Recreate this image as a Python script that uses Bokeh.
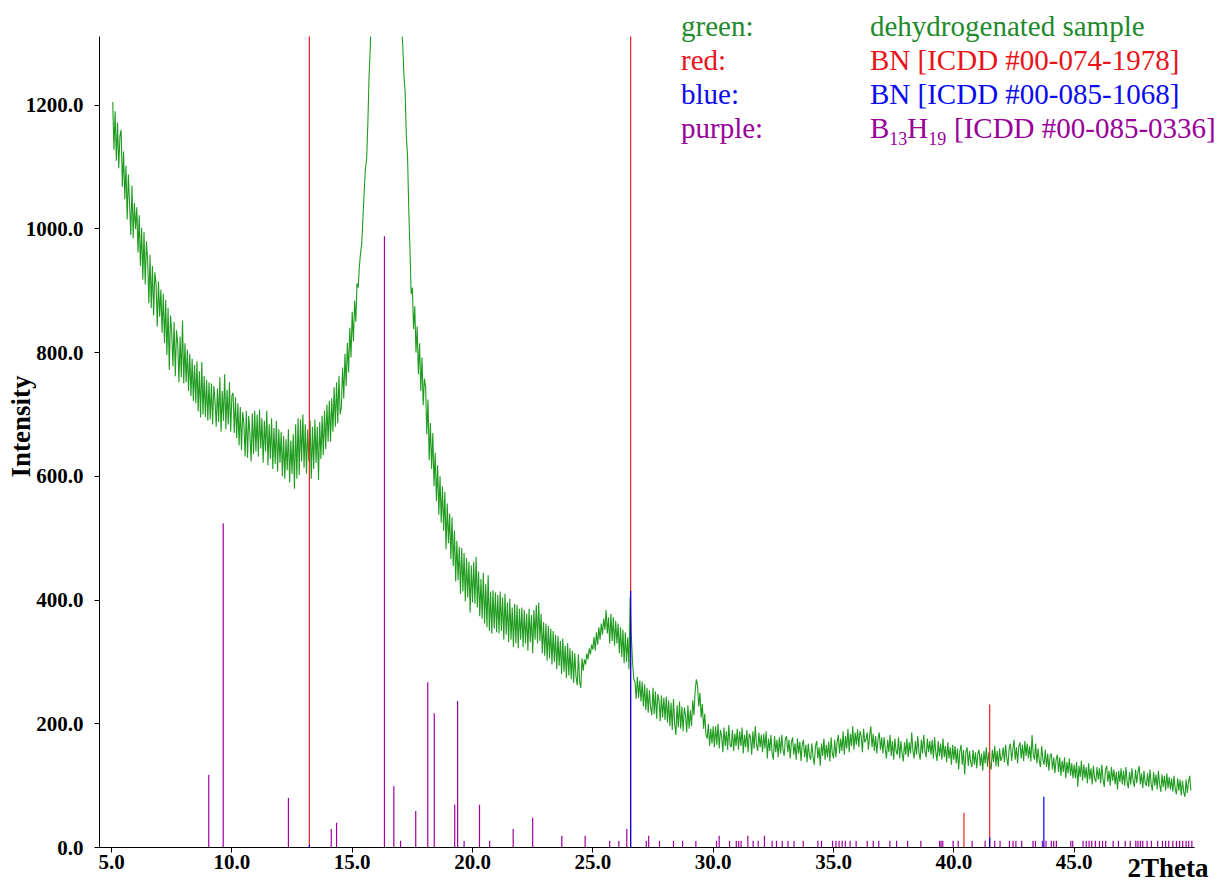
import numpy as np
from bokeh.plotting import figure
from bokeh.models import Range1d, FixedTicker, PrintfTickFormatter
from bokeh.core.properties import value
from bokeh.embed import file_html
from bokeh.resources import INLINE

# ---- measured XRD scan (2Theta grid: start + step) ----
SCAN_START = 5.05
SCAN_STEP = 0.05
intensity = [
    1205, 1128, 1190, 1110, 1172, 1098, 1150, 1160, 1068, 1125, 1048, 1102, 1015, 1088, 1040, 990, 1070, 985, 1042, 1000,
    1035, 962, 1022, 940, 1002, 918, 995, 910, 980, 948, 880, 958, 872, 940, 860, 930, 912, 842, 915, 858,
    902, 832, 895, 815, 885, 796, 872, 772, 860, 834, 778, 850, 762, 836, 815, 752, 826, 760, 852, 750,
    815, 752, 805, 738, 798, 730, 790, 722, 780, 718, 786, 705, 770, 695, 785, 700, 762, 696, 756, 690,
    752, 692, 750, 684, 746, 722, 680, 742, 688, 760, 672, 738, 690, 765, 676, 740, 684, 752, 672, 730,
    735, 670, 728, 662, 718, 650, 712, 642, 704, 684, 632, 706, 630, 698, 668, 624, 702, 636, 706, 640,
    700, 632, 708, 645, 694, 622, 690, 640, 706, 618, 684, 628, 694, 612, 678, 620, 690, 608, 676, 622,
    672, 600, 665, 596, 660, 610, 676, 590, 658, 604, 668, 580, 684, 596, 694, 602, 692, 624, 700, 614,
    684, 604, 676, 624, 690, 596, 680, 612, 692, 622, 680, 594, 688, 628, 698, 634, 706, 644, 716, 656,
    722, 656, 726, 672, 744, 680, 752, 686, 762, 700, 712, 776, 726, 798, 746, 816, 768, 840, 792, 866,
    818, 884, 850, 912, 905, 940, 962, 978, 1020, 1062, 1098, 1112, 1170, 1245, 1290, 1375, 1440, 1530, 1630, 1740,
    1850, 1960, 2070, 2170, 2260, 2330, 2380, 2400, 2390, 2350, 2280, 2190, 2080, 1960, 1840, 1720, 1610, 1510, 1430, 1370,
    1325, 1298, 1248, 1222, 1150, 1118, 1032, 968, 895, 905, 838, 875, 800, 842, 765, 815, 738, 792, 715, 758,
    745, 668, 724, 626, 686, 612, 670, 584, 638, 560, 618, 538, 600, 525, 584, 512, 575, 482, 556, 492,
    540, 466, 534, 455, 512, 430, 496, 432, 486, 410, 484, 414, 476, 398, 468, 404, 462, 380, 456, 396,
    462, 394, 470, 388, 446, 374, 434, 370, 444, 362, 426, 356, 440, 350, 414, 346, 416, 354, 412, 348,
    408, 346, 414, 350, 404, 336, 410, 344, 396, 332, 402, 336, 388, 324, 394, 330, 392, 322, 386, 336,
    388, 324, 384, 330, 378, 318, 386, 332, 376, 314, 384, 336, 392, 330, 396, 334, 378, 314, 364, 310,
    362, 302, 358, 306, 354, 296, 350, 300, 344, 288, 342, 294, 334, 280, 338, 284, 326, 274, 330, 278,
    322, 272, 318, 266, 314, 276, 262, 312, 268, 258, 306, 286, 304, 296, 314, 304, 322, 312, 328, 320,
    340, 318, 348, 328, 356, 336, 362, 344, 370, 352, 384, 346, 372, 330, 378, 334, 372, 326, 366, 330,
    362, 314, 356, 308, 352, 298, 348, 300, 340, 288, 405, 340, 300, 272, 268, 240, 276, 242, 270, 236,
    268, 228, 264, 222, 258, 218, 254, 226, 214, 258, 216, 252, 208, 248, 238, 204, 246, 210, 242, 206,
    244, 202, 238, 196, 234, 190, 240, 200, 182, 230, 194, 236, 192, 228, 188, 226, 214, 186, 230, 192,
    222, 196, 238, 214, 252, 272, 262, 228, 250, 210, 232, 192, 216, 182, 176, 200, 164, 192, 168, 196,
    162, 196, 166, 200, 160, 190, 180, 154, 194, 164, 188, 158, 198, 166, 162, 190, 156, 184, 164, 192,
    158, 188, 164, 194, 152, 182, 162, 190, 154, 184, 178, 150, 188, 160, 196, 166, 156, 186, 162, 182,
    154, 184, 160, 188, 144, 176, 156, 182, 152, 142, 180, 154, 174, 146, 178, 152, 182, 158, 148, 176,
    180, 154, 174, 144, 170, 178, 150, 168, 142, 176, 152, 171, 140, 166, 174, 146, 166, 138, 168, 149,
    142, 168, 146, 134, 164, 172, 144, 162, 132, 168, 148, 176, 142, 166, 146, 171, 139, 178, 152, 144,
    174, 146, 170, 182, 152, 176, 156, 188, 150, 180, 160, 192, 154, 184, 164, 196, 158, 186, 166, 191,
    162, 188, 180, 154, 192, 170, 174, 186, 158, 181, 196, 162, 184, 156, 180, 152, 176, 186, 158, 178,
    152, 178, 159, 144, 174, 154, 182, 148, 172, 142, 176, 156, 150, 178, 144, 172, 152, 139, 170, 150,
    176, 146, 170, 152, 186, 156, 144, 172, 150, 180, 154, 142, 174, 152, 182, 156, 146, 176, 154, 172,
    150, 174, 144, 178, 154, 140, 172, 148, 168, 142, 176, 146, 164, 138, 170, 144, 162, 134, 166, 142,
    164, 136, 160, 126, 156, 166, 134, 158, 118, 154, 162, 132, 156, 138, 130, 158, 134, 154, 128, 152,
    158, 132, 152, 124, 156, 136, 162, 130, 154, 134, 126, 158, 138, 164, 132, 156, 130, 160, 140, 146,
    162, 138, 166, 144, 132, 161, 168, 140, 158, 174, 142, 162, 136, 164, 170, 144, 166, 140, 172, 148,
    168, 144, 164, 139, 182, 150, 142, 168, 136, 160, 140, 130, 164, 142, 134, 158, 130, 152, 124, 148,
    152, 126, 146, 120, 142, 150, 122, 146, 116, 140, 122, 146, 112, 138, 120, 144, 116, 136, 112, 134,
    112, 138, 98, 132, 114, 140, 108, 134, 112, 130, 104, 136, 110, 128, 102, 132, 112, 106, 130, 110,
    128, 104, 134, 110, 98, 126, 132, 106, 124, 100, 130, 108, 126, 102, 122, 94, 124, 106, 128, 102,
    124, 100, 130, 106, 96, 122, 102, 128, 108, 98, 126, 104, 122, 132, 102, 120, 96, 124, 104, 100,
    120, 98, 126, 102, 92, 122, 100, 118, 94, 124, 102, 90, 118, 98, 116, 92, 120, 96, 114, 94,
    112, 90, 116, 94, 86, 112, 92, 110, 84, 108, 90, 82, 110, 88, 106, 116, 92,
]
two_theta = np.round(SCAN_START + SCAN_STEP * np.arange(len(intensity)), 2)

# ---- reference stick patterns ----
red_pos = [13.22, 26.57, 40.42, 41.49]          # BN [ICDD #00-074-1978]
red_int = [1500, 1500, 56, 231]
blue_pos = [13.22, 26.57, 41.49, 43.74]         # BN [ICDD #00-085-1068]
blue_int = [5, 415, 16, 82]
purple_pos = [9.04, 9.64, 12.35, 14.13, 14.35, 16.34, 16.73, 17.01, 17.64, 18.14,
              18.41, 19.26, 19.38, 19.65, 20.29, 20.71, 21.69, 22.50, 23.71, 24.68,
              25.70, 26.08, 26.41, 27.22, 27.32, 27.77, 28.35, 28.73, 29.28, 30.14,
              30.25, 30.68, 30.96, 31.06, 31.16, 31.44, 31.66, 31.87, 32.13, 32.45,
              32.63, 32.87, 33.11, 33.36, 33.74, 34.35, 34.50, 34.96, 35.10, 35.23,
              35.36, 35.49, 35.69, 35.94, 36.40, 36.65, 36.88, 37.34, 37.62, 38.08,
              38.63, 39.41, 39.47, 39.54, 39.97, 40.18, 40.76, 41.30, 41.70, 41.92,
              42.31, 42.46, 42.58, 42.82, 43.29, 43.39, 43.68, 43.83, 44.05, 44.15,
              44.26, 44.86, 44.94, 45.37, 45.50, 45.62, 45.73, 45.88, 46.05, 46.18,
              46.31, 46.62, 46.84, 47.12, 47.33, 47.56, 47.65, 47.75, 47.85, 48.03,
              48.21, 48.47, 48.67, 48.80, 48.93, 49.10, 49.25, 49.38, 49.51, 49.65,
              49.76, 49.89]
purple_int = [117, 524, 80, 30, 40, 988, 99, 11, 59, 267,
              217, 69, 237, 11, 69, 11, 30, 48, 19, 19,
              11, 11, 30, 11, 19, 11, 11, 11, 11, 11,
              19, 11, 11, 11, 11, 19, 11, 11, 19, 11,
              11, 11, 11, 11, 11, 11, 11, 11, 11, 11,
              11, 11, 11, 11, 11, 11, 11, 11, 11, 11,
              11, 11, 11, 11, 11, 11, 11, 11, 11, 11,
              11, 11, 11, 11, 11, 11, 11, 11, 11, 11,
              11, 11, 11, 11, 11, 11, 11, 11, 11, 11,
              11, 11, 11, 11, 11, 11, 11, 11, 11, 11,
              11, 11, 11, 11, 11, 11, 11, 11, 11, 11,
              11, 11]

x_ticks = [5, 10, 15, 20, 25, 30, 35, 40, 45]
y_ticks = [0, 200, 400, 600, 800, 1000, 1200]

legend_keys = ["green:", "red:", "blue:", "purple:"]
legend_names = ["dehydrogenated sample", "BN [ICDD #00-074-1978]", "BN [ICDD #00-085-1068]"]
legend_colors = ["#1f8a2e", "#e8141a", "#0a0af0", "#990099"]

GREEN = "#1f9c1f"
RED = "#f01c1c"
BLUE = "#0000ee"
PURPLE = "#a000a0"

# ---- layout geometry (pixels) ----
W, H = 1220, 882
FL, FR, FT, FB = 99, 26, 36, 35
FW, FH = W - FL - FR, H - FT - FB
X0, X1 = 4.5, 50.0
Y0, Y1 = 0.0, 1311.0


def sx(px):
    return X0 + (px - FL) * (X1 - X0) / FW


def sy(py):
    return Y0 + (H - FB - py) * (Y1 - Y0) / FH


SERIF = "Liberation Serif"

p = figure(width=W, height=H, output_backend="svg", toolbar_location=None,
           x_range=Range1d(X0, X1), y_range=Range1d(Y0, Y1),
           min_border_left=FL, min_border_right=FR,
           min_border_top=FT, min_border_bottom=FB)
p.outline_line_color = None
p.xgrid.visible = False
p.ygrid.visible = False
p.background_fill_color = "white"
p.border_fill_color = "white"

for ax in (p.xaxis[0], p.yaxis[0]):
    ax.axis_line_color = "black"
    ax.axis_line_width = 1
    ax.major_tick_line_color = "black"
    ax.major_tick_out = 5
    ax.major_tick_in = 0
    ax.minor_tick_line_color = None
    ax.major_label_text_font = SERIF
    ax.major_label_text_font_style = "bold"
    ax.major_label_text_font_size = "21px"
    ax.major_label_text_color = "black"
    ax.formatter = PrintfTickFormatter(format="%.1f")

p.xaxis[0].ticker = FixedTicker(ticks=x_ticks)
p.yaxis[0].ticker = FixedTicker(ticks=y_ticks)
p.xaxis[0].major_label_standoff = 2
p.yaxis[0].major_label_standoff = 11

# measured pattern
p.line(two_theta, intensity, line_color=GREEN, line_width=1.1)

# reference sticks
p.segment(x0=purple_pos, y0=[0] * len(purple_pos), x1=purple_pos, y1=purple_int,
          line_color=PURPLE, line_width=1.2)
p.segment(x0=red_pos, y0=[0] * len(red_pos), x1=red_pos, y1=red_int,
          line_color=RED, line_width=1.2)
p.segment(x0=blue_pos, y0=[0] * len(blue_pos), x1=blue_pos, y1=blue_int,
          line_color=BLUE, line_width=1.2)


def add_text(px, py, txt, color, size, style="normal", angle=0.0, align="left"):
    """Free text with its baseline at pixel (px, py), drawn above the frame clip."""
    fs = float(size.rstrip("px"))
    lift = 0.43 * fs  # the glyph's alphabetic anchor sits below the true baseline
    if angle:
        px, py = px - lift, py
    else:
        px, py = px, py - lift
    p.text(x=[sx(px)], y=[sy(py)], text=[txt], text_color=color,
           text_font=value(SERIF), text_font_size=value(size),
           text_font_style=style, text_align=align,
           text_baseline="alphabetic", angle=angle, level="overlay")


# axis titles
add_text(1127, 879, "2Theta", "black", "27px", style="bold")
add_text(32.5, 426, "Intensity", "black", "27px", style="bold",
         angle=np.pi / 2, align="center")

# colour key, top right
baselines = [37.5, 71.5, 105.5, 139.5]
for key, col, yb in zip(legend_keys, legend_colors, baselines):
    add_text(680.5, yb, key, col, "29px")
for name, col, yb in zip(legend_names, legend_colors, baselines):
    add_text(869.5, yb, name, col, "29px")

# B13H19 with subscripts
pc = legend_colors[3]
yb = baselines[3]
add_text(869.5, yb, "B", pc, "29px")
add_text(888.8, yb + 6, "13", pc, "18px")
add_text(906.8, yb, "H", pc, "29px")
add_text(927.7, yb + 6, "19", pc, "18px")
add_text(953.5, yb, "[ICDD #00-085-0336]", pc, "29px")

open("out.html", "w").write(file_html(p, INLINE))
